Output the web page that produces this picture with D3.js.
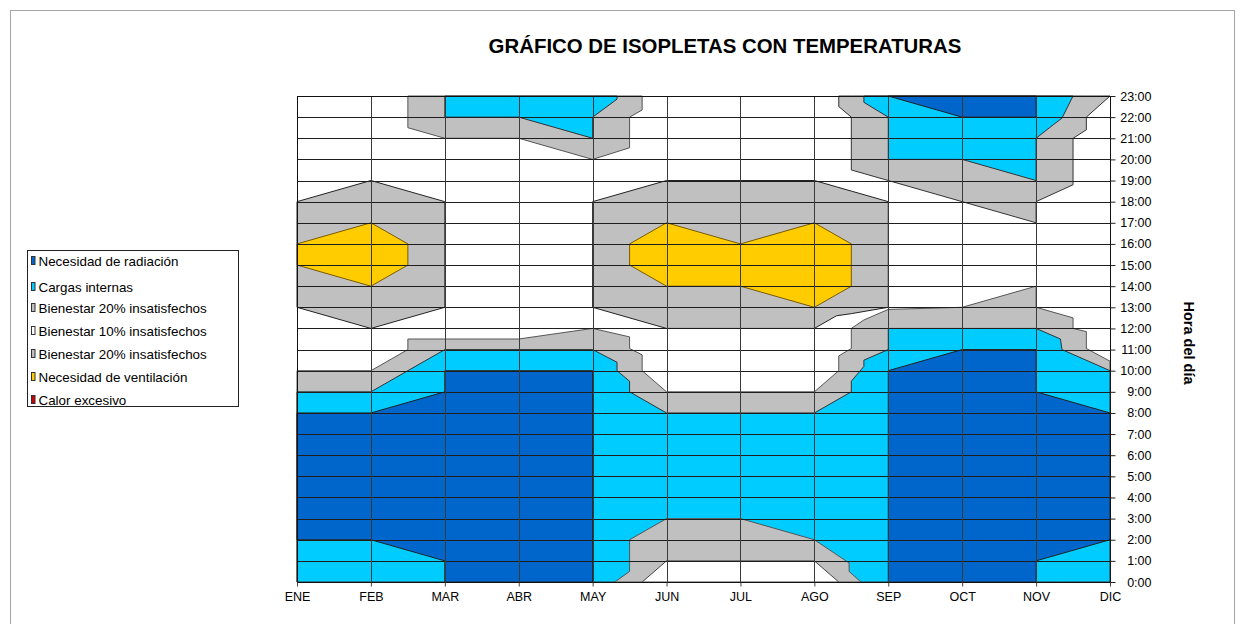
<!DOCTYPE html>
<html><head><meta charset="utf-8">
<script src="https://cdn.jsdelivr.net/npm/d3@7"></script>
<style>
body{margin:0;background:#fff;}
svg{display:block;font-family:"Liberation Sans",Arial,sans-serif;}
</style></head><body>
<svg id="c" width="1243" height="624"></svg>
<script>
// ---------- categories & ticks ----------
const months = ["ENE","FEB","MAR","ABR","MAY","JUN","JUL","AGO","SEP","OCT","NOV","DIC"];
const hourTicks = d3.range(0, 24);
const hourLabels = hourTicks.map(h => h + ":00");
const legendLabels = ["Necesidad de radiación","Cargas internas","Bienestar 20% insatisfechos",
  "Bienestar 10% insatisfechos","Bienestar 20% insatisfechos","Necesidad de ventilación","Calor excesivo"];
const legendColors = ["#0066CC","#00CCFF","#C0C0C0","#FFFFFF","#C0C0C0","#FFCC00","#CC0000"];

// ---------- isopleth boundaries: [month index, hour] (filled from 0:00 up) ----------
const bienestarManana = [[0,10],[1,10],[1.5,11],[1.5,11.5],[2,11.5],[3,11.5],[4,12],[4.5,11.6],[4.5,11.05],
  [4.67,10.75],[4.67,10],[5,9],[6,9],[7,9],[7.33,10],[7.33,10.7],[7.5,11.05],[7.5,12],[7.67,12.4],[8,12.9],
  [9,13],[10,14],[10,13],[10.5,12.5],[10.5,12],[10.68,11.85],[10.68,11.05],[11,10.45]];
const cargasManana = [[0,9],[1,9],[2,11],[4,11],[4.33,10.4],[4.33,10],[4.5,9.5],[4.5,9],[5,8],[6,8],[7,8],
  [7.5,9],[7.5,9.5],[7.67,10.2],[7.67,10.5],[8,11],[8,12],[9,12],[10,12],[10.33,11.5],[10.35,11],[11,10]];
const bienestarMadrugada = [[4.3,0],[4.5,0.5],[4.5,2],[5,3],[6,3],[7,2],[7.47,0.9],[7.47,0.5],[7.63,0]];
const confortMadrugada = [[4.67,0],[5,1],[6,1],[7,1],[7.33,0]];

// ---------- isopleth bands: [month index, lower hour, upper hour] ----------
const radiacionInvierno = [[0,2,8],[1,2,8],[2,1,9],[2,0,10],[4,0,10]];
const radiacionOtono = [[8,0,10],[9,0,11],[10,0,11],[10,1,9],[11,2,8]];
const radiacionNocheOtono = [[8,23,23],[9,22,23],[10,22,23]];
const bienestarTardeInvierno = [[0,13,18],[1,12,19],[2,13,18]];
const bienestarTardeVerano = [[4,13,18],[5,12,19],[6,12,19],[7,12,19],[7.3,12.6,18.7],[7.5,12.7,18.5],[8,13,18]];
const ventilacionInvierno = [[0,15,16],[1,14,17],[1.5,15,16]];
const ventilacionVerano = [[4.5,15,16],[5,14,17],[6,14,16],[7,13,17],[7.5,14,16]];
const bienestarNochePrimavera = [[1.5,21.5,23],[2,21,23],[3,21,23],[4,20,23],[4.5,20.55,23],[4.5,22,23],
  [4.67,22.34,23],[4.67,23,23]];
const bienestarNocheOtono = [[7.33,23,23],[7.33,22.5,23],[7.5,22,23],[7.5,19.5,23],[8,19,23],[9,18,23],
  [10,17,23],[10,18,23],[10.5,18.8,23],[10.5,21,23],[10.68,21.4,23],[10.68,22,23],[11,23,23]];
const cargasNochePrimavera = [[2,22,23],[3,22,23],[4,21,23],[4,22,23],[4.33,22.85,23]];
const cargasNocheOtono = [[7.67,22.7,23],[8,22,23],[8,20,23],[9,20,23],[10,19,23],[10,21,23],
  [10.24,21.66,23],[10.35,21.95,23],[10.5,23,23]];

// ---------- colours ----------
const C = {rad:"#0066CC", carg:"#00CCFF", bien:"#C0C0C0", conf:"#FFFFFF", vent:"#FFCC00"};

// ---------- layout ----------
const svg = d3.select("#c");
const M = {l:297, r:1110, t:96, b:582};
const x = d3.scaleLinear().domain([0, months.length - 1]).range([M.l, M.r]);
const y = d3.scaleLinear().domain([0, 23]).range([M.b, M.t]);

svg.append("rect").attr("x",10.5).attr("y",10.5).attr("width",1224).attr("height",640)
  .attr("fill","#fff").attr("stroke","#a6a6a6");

svg.append("text").attr("x",725).attr("y",53).attr("text-anchor","middle")
  .attr("font-size",20.4).attr("font-weight","bold").attr("fill","#000")
  .text("GRÁFICO DE ISOPLETAS CON TEMPERATURAS");

const plot = svg.append("g");
plot.append("rect").attr("x",M.l).attr("y",M.t).attr("width",M.r-M.l).attr("height",M.b-M.t).attr("fill","#fff");

const stackArea = d3.area().x(d => x(d[0])).y0(y(0)).y1(d => y(d[1]));
const bandArea = d3.area().x(d => x(d[0])).y0(d => y(d[1])).y1(d => y(d[2]));

function stacked(data, fill, stroke) {
  plot.append("path").datum(data).attr("d", stackArea).attr("fill", fill)
    .attr("stroke", stroke || "#333").attr("stroke-width", 1).attr("stroke-linejoin","round");
}
function band(data, fill, stroke) {
  plot.append("path").datum(data).attr("d", bandArea).attr("fill", fill)
    .attr("stroke", stroke || "#333").attr("stroke-width", 1).attr("stroke-linejoin","round");
}

stacked(bienestarManana, C.bien, "#555");
stacked(cargasManana, C.carg, "#333");
band(radiacionInvierno, C.rad, "#222");
band(radiacionOtono, C.rad, "#222");
stacked(bienestarMadrugada, C.bien, "#555");
stacked(confortMadrugada, C.conf, "#444");
band(bienestarTardeInvierno, C.bien, "#222");
band(bienestarTardeVerano, C.bien, "#222");
band(ventilacionInvierno, C.vent, "#7a5a00");
band(ventilacionVerano, C.vent, "#7a5a00");
band(bienestarNochePrimavera, C.bien, "#555");
band(bienestarNocheOtono, C.bien, "#333");
band(cargasNochePrimavera, C.carg, "#333");
band(cargasNocheOtono, C.carg, "#333");
band(radiacionNocheOtono, C.rad, "#222");

// gridlines
const grid = svg.append("g");
grid.selectAll("line.h").data(hourTicks).join("line")
  .attr("x1",M.l).attr("x2",M.r).attr("y1",d => Math.round(y(d))+0.5).attr("y2",d => Math.round(y(d))+0.5)
  .attr("stroke","#1e1e1e").attr("stroke-width",1);
grid.selectAll("line.v").data(months).join("line")
  .attr("x1",(d,i) => Math.round(x(i))+0.5).attr("x2",(d,i) => Math.round(x(i))+0.5)
  .attr("y1",M.t).attr("y2",M.b).attr("stroke","#3a3a3a").attr("stroke-width",1);

svg.append("rect").attr("x",M.l+0.5).attr("y",Math.round(M.t)+0.5).attr("width",M.r-M.l)
  .attr("height",M.b-M.t).attr("fill","none").attr("stroke","#111");

// right axis
const yAxis = d3.axisRight(y).tickValues(hourTicks).tickFormat(d => hourLabels[d]).tickSize(5).tickPadding(2);
const ya = svg.append("g").attr("transform",`translate(${M.r+0.5},0)`).call(yAxis);
ya.select(".domain").remove();
ya.selectAll("line").attr("stroke","#222");
ya.selectAll("text").attr("font-size",12.5).attr("font-family","'Liberation Sans',Arial,sans-serif")
  .attr("fill","#000").attr("text-anchor","end").attr("x",41);

svg.append("text").attr("transform","translate(1184,343) rotate(90)").attr("text-anchor","middle")
  .attr("font-size",14.5).attr("font-weight","bold").text("Hora del día");

// bottom axis
const xAxis = d3.axisBottom(x).tickValues(d3.range(months.length)).tickFormat(i => months[i]).tickSize(4).tickPadding(6);
const xa = svg.append("g").attr("transform",`translate(0,${M.b+0.5})`).call(xAxis);
xa.select(".domain").remove();
xa.selectAll("line").attr("stroke","#444");
xa.selectAll("text").attr("font-size",12.5).attr("fill","#000")
  .attr("font-family","'Liberation Sans Narrow','Arial Narrow','Liberation Sans',sans-serif");

// legend
const lg = svg.append("g");
lg.append("rect").attr("x",27.5).attr("y",250.5).attr("width",211).attr("height",156)
  .attr("fill","#fff").attr("stroke","#222");
const legendY = [261, 287, 308, 331, 354, 377, 400];
legendLabels.forEach((t, i) => {
  lg.append("rect").attr("x",31.5).attr("y",legendY[i]-4.5).attr("width",3.5).attr("height",8)
    .attr("fill",legendColors[i]).attr("stroke","#333").attr("stroke-width",1);
  lg.append("text").attr("x",38.5).attr("y",legendY[i]+4.5).attr("font-size",13.4).attr("fill","#000").text(t);
});
</script>
</body></html>
